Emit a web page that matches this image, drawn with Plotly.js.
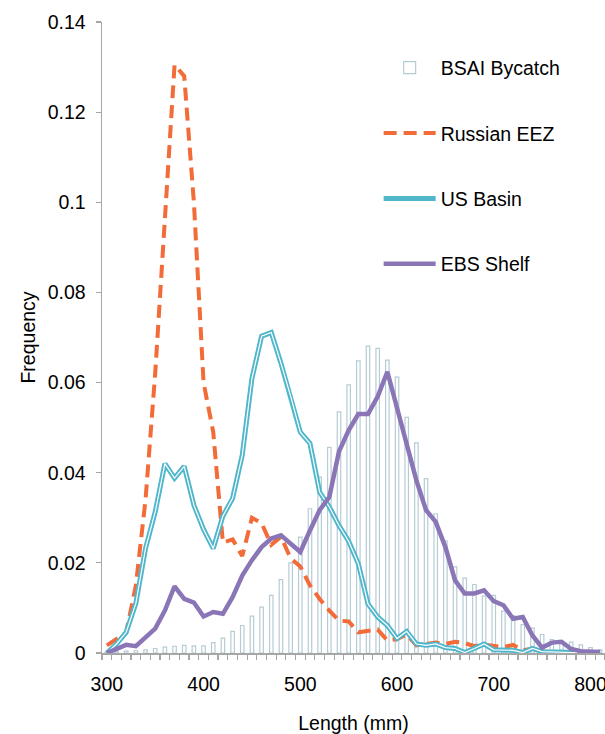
<!DOCTYPE html>
<html>
<head>
<meta charset="utf-8">
<script src="https://cdn.plot.ly/plotly-3.0.1.min.js"></script>
<style>
html,body{margin:0;padding:0;background:#fff;overflow:hidden;}
#chart{width:605px;height:734px;}
</style>
</head>
<body>
<div id="chart"></div>
<script>
// Length categories (mm)
const lengths = [300,310,320,330,340,350,360,370,380,390,400,410,420,430,440,450,460,470,480,490,500,510,520,530,540,550,560,570,580,590,600,610,620,630,640,650,660,670,680,690,700,710,720,730,740,750,760,770,780,790,800,810];

const bsaiBycatch = [0.0002,0.0003,0.0004,0.0005,0.0007,0.0010,0.0013,0.0015,0.0017,0.0016,0.0016,0.0023,0.0033,0.0048,0.0061,0.0082,0.0102,0.0128,0.0163,0.0200,0.0257,0.0320,0.0390,0.0456,0.0535,0.0595,0.0648,0.0681,0.0676,0.0650,0.0612,0.0523,0.0466,0.0387,0.0309,0.0249,0.0191,0.0166,0.0152,0.0126,0.0128,0.0093,0.0083,0.0063,0.0055,0.0041,0.0030,0.0026,0.0024,0.0018,0.0012,0.0007];

const russianEEZ = [0.0017,0.0030,0.0045,0.0150,0.0340,0.0620,0.0980,0.1305,0.1280,0.1000,0.0600,0.0490,0.0245,0.0252,0.0215,0.0300,0.0288,0.0240,0.0258,0.0210,0.0192,0.0150,0.0120,0.0094,0.0072,0.0070,0.0046,0.0050,0.0052,0.0028,0.0031,0.0041,0.0017,0.0020,0.0023,0.0020,0.0025,0.0022,0.0015,0.0019,0.0015,0.0013,0.0018,0.0006,0.0010,0.0003,0.0002,0.0002,0.0001,0.0001,0.0001,0.0001];

const usBasin = [0.0000,0.0020,0.0046,0.0110,0.0232,0.0313,0.0420,0.0388,0.0414,0.0328,0.0274,0.0232,0.0304,0.0343,0.0439,0.0609,0.0703,0.0711,0.0643,0.0570,0.0490,0.0465,0.0357,0.0324,0.0283,0.0248,0.0198,0.0109,0.0080,0.0061,0.0032,0.0048,0.0020,0.0017,0.0020,0.0012,0.0010,0.0001,0.0010,0.0020,0.0007,0.0006,0.0006,0.0001,0.0010,0.0003,0.0002,0.0001,0.0001,0.0001,0.0001,0.0001];

const ebsShelf = [0.0000,0.0009,0.0018,0.0015,0.0035,0.0054,0.0094,0.0148,0.0120,0.0112,0.0081,0.0091,0.0087,0.0124,0.0172,0.0206,0.0235,0.0254,0.0261,0.0243,0.0224,0.0272,0.0317,0.0346,0.0447,0.0494,0.0530,0.0530,0.0569,0.0624,0.0546,0.0465,0.0383,0.0317,0.0291,0.0235,0.0161,0.0132,0.0132,0.0139,0.0115,0.0106,0.0076,0.0080,0.0039,0.0012,0.0023,0.0025,0.0009,0.0004,0.0002,0.0002];

const xTickVals = [300,400,500,600,700,800];
const xTickText = ['300','400','500','600','700','800'];
const yTickVals = [0,0.02,0.04,0.06,0.08,0.1,0.12,0.14];
const yTickText = ['0','0.02','0.04','0.06','0.08','0.1','0.12','0.14'];

const FONT = 'Liberation Sans, Arial, Helvetica, sans-serif';
const FS = 19.5;
const AXIS = '#a6a6a6';

const traces = [
  {
    type: 'bar', name: 'BSAI Bycatch', x: lengths, y: bsaiBycatch,
    width: 3.6,
    marker: {color: '#ffffff', line: {color: '#b6ccd5', width: 1.2}},
    legendgroup: 'a', hoverinfo: 'skip'
  },
  {
    type: 'scatter', mode: 'lines', name: 'Russian EEZ', x: lengths, y: russianEEZ,
    line: {color: '#f26b38', width: 4, dash: '13px,7px'},
    legendgroup: 'b'
  },
  {
    type: 'scatter', mode: 'lines', name: 'US Basin', x: lengths, y: usBasin,
    line: {color: '#4fb6cc', width: 5},
    legendgroup: 'c'
  },
  {
    type: 'scatter', mode: 'lines', name: 'US Basin', x: lengths, y: usBasin,
    line: {color: '#ffffff', width: 1.2},
    legendgroup: 'c', showlegend: false, hoverinfo: 'skip'
  },
  {
    type: 'scatter', mode: 'lines', name: 'EBS Shelf', x: lengths, y: ebsShelf,
    line: {color: '#8a76b6', width: 4.5},
    legendgroup: 'd'
  }
];

const layout = {
  width: 605, height: 734,
  margin: {l: 102, r: 0, t: 22, b: 81, pad: 0},
  paper_bgcolor: '#ffffff', plot_bgcolor: '#ffffff',
  font: {family: FONT, size: FS, color: '#000000'},
  showlegend: true,
  legend: {
    x: 0.55, xanchor: 'left', y: 0.958, yanchor: 'top',
    font: {family: FONT, size: FS, color: '#000000'},
    itemwidth: 52, tracegroupgap: 37, traceorder: 'grouped',
    bgcolor: 'rgba(0,0,0,0)', borderwidth: 0
  },
  bargap: 0,
  xaxis: {
    range: [295, 815], showgrid: false, zeroline: false,
    showline: true, linecolor: AXIS, linewidth: 1.5,
    tickmode: 'array', tickvals: xTickVals, ticktext: xTickText,
    ticks: '', ticklabelstandoff: 13, ticklabeloverflow: 'allow',
    tickfont: {family: FONT, size: FS, color: '#000'},
    minor: {ticks: 'outside', tick0: 295, dtick: 10, ticklen: 5, tickcolor: AXIS, tickwidth: 1.2, showgrid: false},
    title: {text: 'Length (mm)', font: {family: FONT, size: FS, color: '#000'}, standoff: 22},
    fixedrange: true
  },
  yaxis: {
    range: [0, 0.14], showgrid: false, zeroline: false,
    showline: true, linecolor: AXIS, linewidth: 1.5,
    tickmode: 'array', tickvals: yTickVals, ticktext: yTickText,
    ticks: 'outside', ticklen: 5, tickcolor: AXIS, tickwidth: 1.2,
    ticklabelstandoff: 6,
    tickfont: {family: FONT, size: FS, color: '#000'},
    title: {text: 'Frequency', font: {family: FONT, size: FS, color: '#000'}, standoff: 7},
    fixedrange: true
  }
};

Plotly.newPlot('chart', traces, layout, {displayModeBar: false, staticPlot: true});
</script>
</body>
</html>
